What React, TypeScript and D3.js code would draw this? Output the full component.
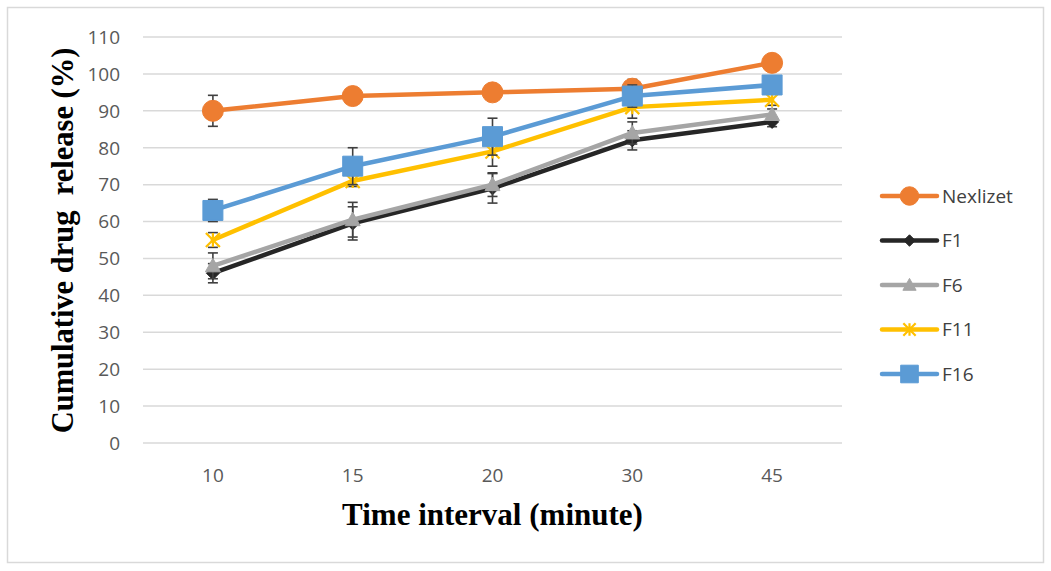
import React from "react";
import * as d3 from "d3";

const categories = ["10", "15", "20", "30", "45"];
const yTicks = [0, 10, 20, 30, 40, 50, 60, 70, 80, 90, 100, 110];

const seriesNames = ["Nexlizet", "F1", "F6", "F11", "F16"];
const nexlizet = [90, 94, 95, 96, 103];
const f1 = [46, 59.5, 69, 82, 87];
const f6 = [48, 60.5, 70, 84, 89];
const f11 = [55, 71, 79, 91, 93];
const f16 = [63, 75, 83, 94, 97];

const nexlizetErr = [4.2, 2, 2, 2.5, 1];
const f1Err = [2.6, 4.5, 4, 2.6, 1.3];
const f6Err = [3.5, 4.7, 3.2, 3, 1.5];
const f11Err = [2, 1.5, 4, 3, 1.5];
const f16Err = [3, 5, 5, 3, 1.5];

const colors = ["#ED7D31", "#262626", "#A5A5A5", "#FFC000", "#5B9BD5"];
const markers = ["circle", "diamond", "triangle", "star", "square"];

const W = 1051;
const H = 571;
const plot = { left: 143, right: 842, top: 37, bottom: 443 };
const font = "'Open Sans', 'Noto Sans', sans-serif";

const markerPath = (kind: string, size: number) => {
  const s = size / 2;
  switch (kind) {
    case "circle":
      return d3.symbol(d3.symbolCircle, Math.PI * s * s)() as string;
    case "square":
      return `M${-s},${-s}H${s}V${s}H${-s}Z`;
    case "diamond":
      return `M0,${-s}L${s},0L0,${s}L${-s},0Z`;
    case "triangle":
      return `M0,${-s}L${s},${s * 0.8}L${-s},${s * 0.8}Z`;
    default:
      return `M${-s},${-s}L${s},${s}M${-s},${s}L${s},${-s}M0,${-s}V${s}`;
  }
};

const Marker = ({ kind, color, size }: { kind: string; color: string; size: number }) =>
  kind === "star" ? (
    <path d={markerPath(kind, size)} stroke={color} strokeWidth={2.2} fill="none" />
  ) : (
    <path d={markerPath(kind, size)} fill={color} stroke={color} strokeWidth={1} />
  );

const markerSize: Record<string, number> = {
  circle: 21,
  square: 20,
  diamond: 13,
  triangle: 15,
  star: 14,
};

export default function App() {
  const values = [nexlizet, f1, f6, f11, f16];
  const errors = [nexlizetErr, f1Err, f6Err, f11Err, f16Err];

  const x = d3.scalePoint<string>().domain(categories).range([plot.left, plot.right]).padding(0.5);
  const y = d3.scaleLinear().domain([0, 110]).range([plot.bottom, plot.top]);
  const line = d3
    .line<number>()
    .x((_, i) => x(categories[i]) as number)
    .y((d) => y(d));

  return (
    <svg
      width={W}
      height={H}
      style={{ position: "absolute", left: 0, top: 0, background: "#fff" }}
    >
      <rect x={7.5} y={7.5} width={1036} height={555} fill="#fff" stroke="#d9d9d9" strokeWidth={1.5} />

      {/* gridlines + y labels */}
      {yTicks.map((t) => (
        <g key={t}>
          <line x1={plot.left} x2={plot.right} y1={y(t)} y2={y(t)} stroke="#d9d9d9" strokeWidth={1.5} />
          <text
            x={120}
            y={y(t)}
            dy="0.36em"
            textAnchor="end"
            fontFamily={font}
            fontSize={19}
            fill="#595959"
          >
            {t}
          </text>
        </g>
      ))}

      {categories.map((c) => (
        <text
          key={c}
          x={x(c)}
          y={482}
          textAnchor="middle"
          fontFamily={font}
          fontSize={19}
          fill="#595959"
        >
          {c}
        </text>
      ))}

      <text
        x={(plot.left + plot.right) / 2}
        y={525}
        textAnchor="middle"
        fontFamily="'Liberation Serif', 'Times New Roman', serif"
        fontWeight="bold"
        fontSize={31}
        fill="#000"
      >
        Time interval (minute)
      </text>
      <text
        transform={`translate(73, ${(48 + 433) / 2}) rotate(-90)`}
        textAnchor="middle"
        fontFamily="'Liberation Serif', 'Times New Roman', serif"
        fontWeight="bold"
        fontSize={30.5}
        fill="#000"
        style={{ whiteSpace: "pre" }}
      >
        {"Cumulative drug  release (%)"}
      </text>

      {/* series */}
      {values.map((vals, si) => (
        <g key={seriesNames[si]}>
          <path d={line(vals) as string} fill="none" stroke={colors[si]} strokeWidth={4.5} strokeLinejoin="round" strokeLinecap="round" />
          {vals.map((v, i) => {
            const cx = x(categories[i]) as number;
            const e = errors[si][i];
            return (
              <g key={i} stroke="#404040" strokeWidth={1.6}>
                <line x1={cx} x2={cx} y1={y(v + e)} y2={y(v - e)} />
                <line x1={cx - 5} x2={cx + 5} y1={y(v + e)} y2={y(v + e)} />
                <line x1={cx - 5} x2={cx + 5} y1={y(v - e)} y2={y(v - e)} />
              </g>
            );
          })}
          {vals.map((v, i) => (
            <g key={`m${i}`} transform={`translate(${x(categories[i])},${y(v)})`}>
              <Marker kind={markers[si]} color={colors[si]} size={markerSize[markers[si]]} />
            </g>
          ))}
        </g>
      ))}

      {/* legend */}
      {seriesNames.map((name, i) => {
        const ly = 196 + i * 44.5;
        return (
          <g key={name} transform={`translate(882, ${ly})`}>
            <line x1={0} x2={55} y1={0} y2={0} stroke={colors[i]} strokeWidth={4.5} strokeLinecap="round" />
            <g transform="translate(27.5,0)">
              <Marker kind={markers[i]} color={colors[i]} size={markerSize[markers[i]] * 0.88} />
            </g>
            <text x={60} y={0} dy="0.36em" fontFamily={font} fontSize={19} fill="#404040">
              {name}
            </text>
          </g>
        );
      })}
    </svg>
  );
}
